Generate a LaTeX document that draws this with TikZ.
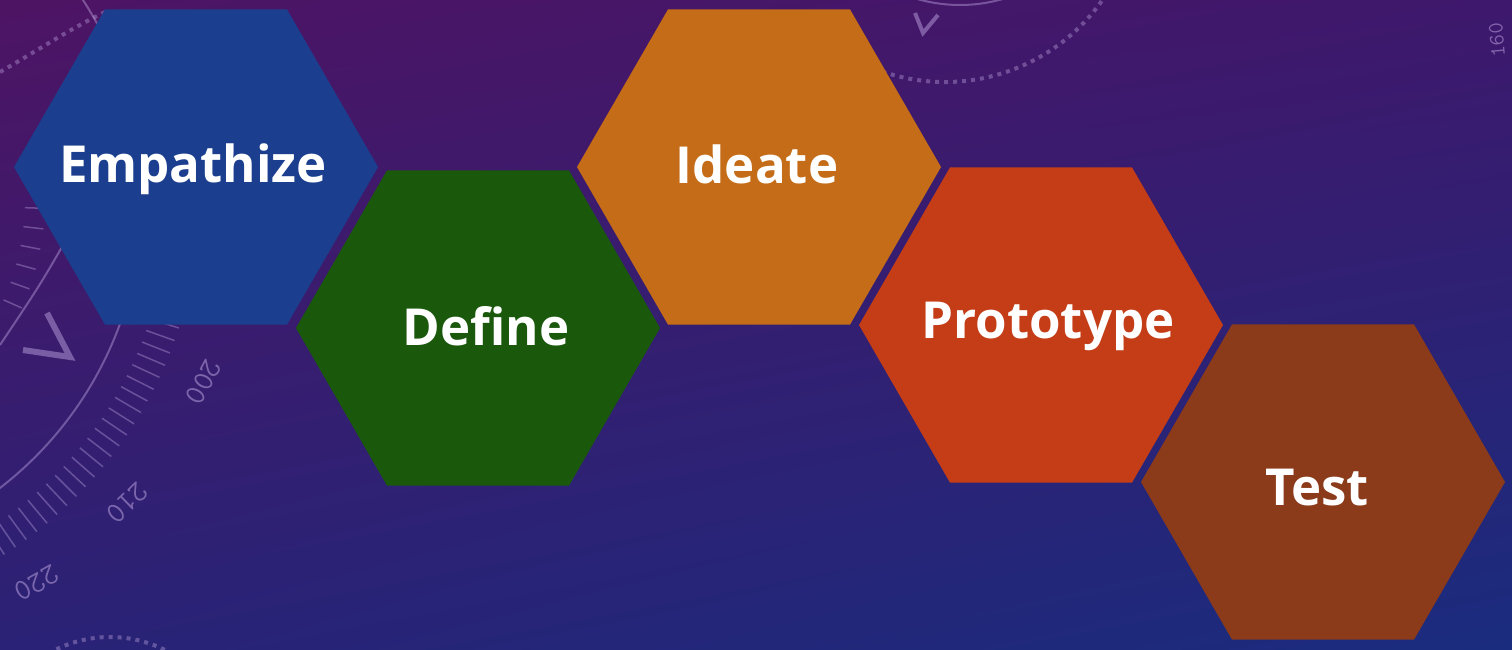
\documentclass[tikz,border=0pt]{standalone}
\usepackage{fontspec}
\setmainfont{Open Sans}
\usetikzlibrary{shapes.geometric,calc,shadings}
\definecolor{bgTL}{RGB}{78,20,100}
\definecolor{bgTR}{RGB}{62,24,108}
\definecolor{bgBL}{RGB}{42,34,118}
\definecolor{bgBR}{RGB}{26,44,126}
\definecolor{deco}{RGB}{185,160,220}
\definecolor{hexEmp}{RGB}{27,63,142}
\definecolor{hexDef}{RGB}{26,88,12}
\definecolor{hexIde}{RGB}{196,108,23}
\definecolor{hexPro}{RGB}{196,61,23}
\definecolor{hexTes}{RGB}{139,58,26}
\begin{document}
\begin{tikzpicture}[x=1pt,y=-1pt,
  hexagon/.style={regular polygon, regular polygon sides=6, minimum size=364pt, inner sep=0pt, outer sep=0pt, draw=none},
  hextext/.style={text=white, font=\fontsize{51}{60}\selectfont\bfseries, anchor=base, inner sep=0pt},
  decoline/.style={draw=deco, draw opacity=0.45, line width=2pt},
  decotick/.style={draw=deco, draw opacity=0.4, line width=1.5pt},
  decodots/.style={draw=deco, draw opacity=0.4, line width=4pt, dash pattern=on 4pt off 5pt},
  deconum/.style={text=deco, text opacity=0.55, font=\ttfamily\fontsize{30}{30}\selectfont, inner sep=0pt}]
\useasboundingbox (0,0) rectangle (1512,649);
\shade[upper left=bgTL, upper right=bgTR, lower left=bgBL, lower right=bgBR] (0,0) rectangle (1512,649);
% decorative compass (left)
\coordinate (C1) at (-223,199);
\draw[decoline] ($(C1)+(-40:365)$) arc[start angle=-40, end angle=70, radius=365];
\foreach \a in {-20,-18.2,...,75} {
  \draw[decotick] ($(C1)+(\a:392)$) -- ($(C1)+(\a:422)$);
}
\foreach \a in {2,6.4,...,24} {
  \draw[decotick] ($(C1)+(\a:248)$) -- ($(C1)+(\a:268)$);
}
\foreach \n/\a in {200/23.2,210/40.9,220/55.9} {
  \node[deconum, rotate={-\a-95}] at ($(C1)+(\a:464)$) {\n};
}
\coordinate (i1) at (66,240);
\coordinate (i2) at (0,345);
\draw[decoline] (i1) .. controls (40,285) .. (i2);
\coordinate (v1) at (47,313);
\coordinate (v2) at (70,357);
\coordinate (v3) at (23,350);
\draw[draw=deco, draw opacity=0.5, line width=6pt, line join=miter] (v1) -- (v2) -- (v3);
\coordinate (d1) at (0,72);
\coordinate (d2) at (105,12);
\draw[decodots] (d1) .. controls (35,52) and (68,30) .. (d2);
% decorative compass (top)
\coordinate (C2) at (945,-110);
\draw[decodots] ($(C2)+(30:192)$) arc[start angle=30, end angle=118, radius=192];
\coordinate (C3) at (960,-150);
\draw[decoline] ($(C3)+(60:155)$) arc[start angle=60, end angle=120, radius=155];
\coordinate (w1) at (915,13);
\coordinate (w2) at (923,33);
\coordinate (w3) at (938,15);
\draw[draw=deco, draw opacity=0.5, line width=4pt] (w1) -- (w2) -- (w3);
\node[deconum, rotate=95, font=\ttfamily\fontsize{22}{22}\selectfont] (n160) at (1497,40) {160};
% bottom-left dotted arc
\coordinate (C4) at (110,760);
\draw[decodots] ($(C4)+(240:123)$) arc[start angle=240, end angle=300, radius=123];
% hexagons
\node[hexagon, fill=hexEmp] (emp) at (196,167) {};
\node[hexagon, fill=hexDef] (def) at (478,328) {};
\node[hexagon, fill=hexIde] (ide) at (759,167) {};
\node[hexagon, fill=hexPro] (pro) at (1041,325) {};
\node[hexagon, fill=hexTes] (tes) at (1323,482) {};
% labels
\node[hextext] (empT) at (193,182) {Empathize};
\node[hextext] (defT) at (486,345) {Define};
\node[hextext] (ideT) at (757,183) {Ideate};
\node[hextext] (proT) at (1048,338) {Prototype};
\node[hextext] (tesT) at (1317,505) {Test};
\end{tikzpicture}
\end{document}
